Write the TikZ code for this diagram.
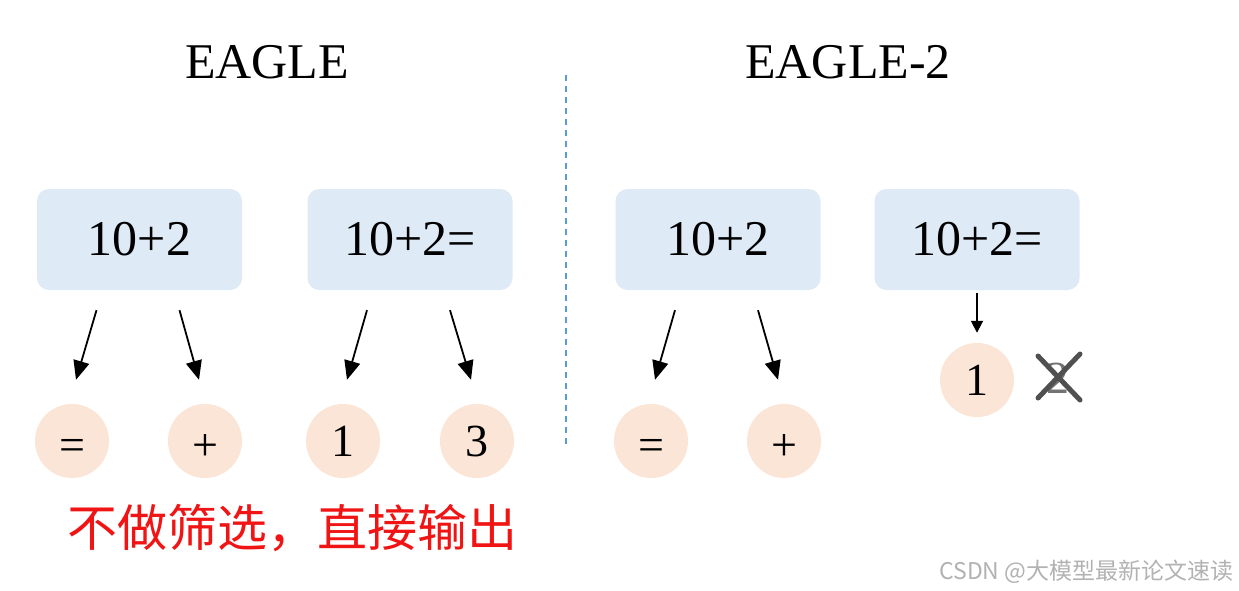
\documentclass[tikz,border=0pt]{standalone}
\usepackage{fontspec}
\setmainfont{Liberation Serif}
\newfontfamily\cjk{Noto Sans CJK SC}
\usepackage{xcolor}
\usetikzlibrary{arrows.meta,positioning,calc}
\definecolor{pbox}{RGB}{222,234,246}
\definecolor{ptok}{RGB}{251,229,214}
\definecolor{pdash}{RGB}{91,155,213}
\definecolor{pnote}{RGB}{240,20,20}
\definecolor{pcross}{RGB}{80,80,80}
\newcommand{\lowsym}[1]{\raisebox{-4pt}{#1}}
\tikzset{
  seqbox/.style={rectangle,rounded corners=12pt,fill=pbox,minimum width=205pt,
                 minimum height=101pt,inner sep=0pt,font=\fontsize{50}{60}\selectfont},
  tok/.style={circle,fill=ptok,minimum size=74pt,inner sep=0pt,
              text height=30pt,text depth=0pt,font=\fontsize{46}{55}\selectfont},
  title/.style={font=\fontsize{50}{60}\selectfont},
  draftarrow/.style={-{Triangle[length=19pt,width=16pt]},line width=1.8pt,black},
}
\begin{document}
\begin{tikzpicture}[x=1pt,y=-1pt]
  \useasboundingbox[fill=white] (0,0) rectangle (1239,591);
  % titles and divider
  \node[title] (t1) at (267,62) {EAGLE};
  \node[title] (t2) at (848,62) {EAGLE-2};
  \coordinate (d1) at (566,75);
  \coordinate (d2) at (566,445);
  \draw[pdash,line width=1.6pt,dash pattern=on 6pt off 5pt] (d1) -- (d2);
  % EAGLE: context boxes
  \node[seqbox] (b1) at (139.5,239.5) {10+2};
  \node[seqbox] (b2) at (410,239.5) {10+2=};
  % EAGLE: draft tokens
  \node[tok] (e1) at (72,441) {\lowsym{=}};
  \node[tok] (e2) at (205,441) {\lowsym{+}};
  \node[tok] (e3) at (343,441) {1};
  \node[tok] (e4) at (477,441) {3};
  % EAGLE-2: context boxes
  \node[seqbox] (b3) at (718,239.5) {10+2};
  \node[seqbox] (b4) at (977,239.5) {10+2=};
  % EAGLE-2: draft tokens
  \node[tok] (f1) at (651,441) {\lowsym{=}};
  \node[tok] (f2) at (784,441) {\lowsym{+}};
  \node[tok] (f3) at (977,380) {1};
  \node[font=\fontsize{46}{55}\selectfont,pcross!80] (f4) at (1058,378) {2};
  \draw[pcross,line width=5pt,line cap=round]
    ([shift={(-20,-22)}]f4.center) -- ([shift={(22,22)}]f4.center)
    ([shift={(22,-24)}]f4.center) -- ([shift={(-20,20)}]f4.center);
  % arrow ends
  \foreach \b/\l/\r in {b1/e1/e2,b2/e3/e4,b3/f1/f2}{
    \coordinate (\l s) at ([xshift=-43pt,yshift=-20pt]\b.south);
    \coordinate (\l t) at ([xshift=4pt,yshift=24pt]\l.north);
    \coordinate (\r s) at ([xshift=40pt,yshift=-20pt]\b.south);
    \coordinate (\r t) at ([xshift=-6pt,yshift=24pt]\r.north);
    \draw[draftarrow] (\l s) -- (\l t);
    \draw[draftarrow] (\r s) -- (\r t);
  }
  \coordinate (f3s) at ([yshift=-3pt]b4.south);
  \draw[draftarrow,-{Triangle[length=12pt,width=12pt]}] (f3s) -- ([yshift=10pt]f3.north);
  % notes
  \node[font=\cjk\fontsize{50}{58}\selectfont,pnote,anchor=west] (n1) at (64,528)
    {不做筛选，直接输出};
  \node[font=\cjk\fontsize{23}{27}\selectfont,black!30,anchor=east] (n2) at (1237,572)
    {CSDN @大模型最新论文速读};
\end{tikzpicture}
\end{document}
